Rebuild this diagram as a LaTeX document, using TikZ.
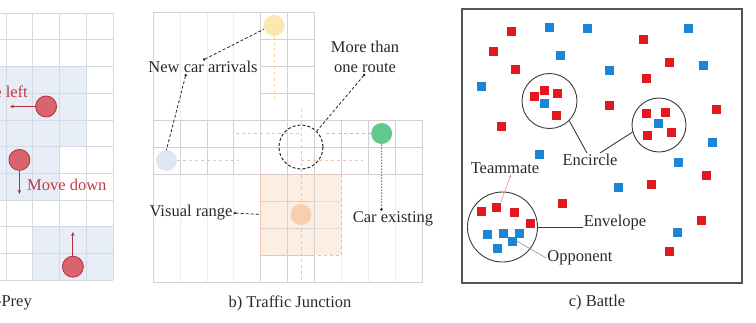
\documentclass[tikz,border=0pt]{standalone}
\usepackage{fontspec}
\setmainfont{Liberation Serif}
\usetikzlibrary{arrows.meta}
\definecolor{gridgray}{HTML}{D5DAE2}
\definecolor{visblue}{HTML}{E7EDF6}
\definecolor{agentred}{HTML}{D9646C}
\definecolor{agentdark}{HTML}{B0303E}
\definecolor{agenttext}{HTML}{C23A44}
\definecolor{roadgray}{HTML}{D2D2D2}
\definecolor{faintgray}{HTML}{EEEEEE}
\definecolor{visorange}{HTML}{FDEEE4}
\definecolor{visedge}{HTML}{F3BCA6}
\definecolor{caryellow}{HTML}{FCE7B0}
\definecolor{carblue}{HTML}{E0E5F4}
\definecolor{cargreen}{HTML}{62C98C}
\definecolor{carorange}{HTML}{F8CFAE}
\definecolor{yellowdash}{HTML}{F3DC9C}
\definecolor{bluedash}{HTML}{C5CFEA}
\definecolor{greendash}{HTML}{90D6A8}
\definecolor{orangedash}{HTML}{F2BFA8}
\definecolor{txtgray}{HTML}{2A2A2A}
\definecolor{framegray}{HTML}{555555}
\definecolor{ringgray}{HTML}{3A3A3A}
\definecolor{battlered}{HTML}{E4161E}
\definecolor{battleblue}{HTML}{1B86D8}
\definecolor{matepink}{HTML}{F08A8A}
\begin{document}
\begin{tikzpicture}[x=1pt,y=-1pt,
    lbl/.style={font=\fontsize{16.5}{20}\selectfont, text=txtgray, inner sep=1pt},
    agent/.style={circle, draw=agentdark, fill=agentred, line width=0.8pt, minimum size=21pt, inner sep=0pt},
    move/.style={draw=agentdark, line width=1pt, -{Stealth[length=4pt,width=3.5pt]}},
    car/.style={circle, minimum size=21pt, inner sep=0pt},
    route/.style={dashed, line width=0.9pt},
    lead/.style={draw=txtgray, line width=0.8pt, densely dashed, {Circle[length=2.5pt]}-},
    tm/.style={rectangle, fill=battlered, minimum size=9pt, inner sep=0pt},
    op/.style={rectangle, fill=battleblue, minimum size=9pt, inner sep=0pt},
    ring/.style={circle, draw=ringgray, line width=0.9pt, inner sep=0pt}]
    \useasboundingbox (0,0) rectangle (756,322);

    % a) Predator-Prey (cut at the left edge)
    \begin{scope}
        \clip (0,0) rectangle (140,322);
        \fill[visblue] (-21,66.4) rectangle (86.25,146.5);
        \fill[visblue] (-21,119.8) rectangle (59.5,199.9);
        \fill[visblue] (32.75,226.6) rectangle (113,280);
        \foreach \i in {0,...,10} {
            \draw[gridgray, line width=0.6pt] (113-26.75*\i,13) -- (113-26.75*\i,280);
            \draw[gridgray, line width=0.6pt] (-155,13+26.7*\i) -- (113,13+26.7*\i);
        }
        \node[agent] (prey1) at (46.1,106.5) {};
        \node[agent] (prey2) at (19.4,159.9) {};
        \node[agent] (prey3) at (72.9,266.7) {};
        \coordinate (left1) at (10,106.5);
        \coordinate (down2) at (19.4,194);
        \coordinate (up3) at (72.9,232);
        \draw[move] (prey1) -- (left1);
        \draw[move] (prey2) -- (down2);
        \draw[move] (prey3) -- (up3);
        \node[lbl, text=agenttext, anchor=east] (leftlbl) at (29,92) {Move left};
        \node[lbl, text=agenttext, anchor=west] (downlbl) at (26,185) {Move down};
        \node[lbl, anchor=east] (capa) at (33,303) {a) Predator-Prey};
    \end{scope}

    % b) Traffic Junction
    \begin{scope}[shift={(153,12)}, x=26.9pt, y=-27pt]
        % faint columns
        \foreach \i in {1,2,3} \draw[faintgray, line width=0.6pt] (\i,0) -- (\i,10);
        \foreach \i in {7,8,9} \draw[faintgray, line width=0.6pt] (\i,4) -- (\i,10);
        % visual range
        \fill[visorange] (4,6) rectangle (7,9);
        \foreach \i in {7,8} \draw[roadgray!70, line width=0.6pt] (4,\i) -- (7,\i);
        % roads
        \foreach \i in {0,...,10} {
            \draw[roadgray, line width=0.6pt] (\i,4) -- (\i,6);
            \draw[roadgray, line width=0.6pt] (4,\i) -- (6,\i);
        }
        \foreach \i in {4,5,6} {
            \draw[roadgray, line width=0.6pt] (0,\i) -- (10,\i);
            \draw[roadgray, line width=0.6pt] (\i,0) -- (\i,10);
        }
        \draw[roadgray, line width=0.6pt] (0,0) -- (6,0) -- (6,4) -- (10,4) -- (10,10) -- (0,10) -- cycle;
        \draw[visedge, dashed, line width=0.6pt] (4,6) rectangle (7,9);
        \coordinate (vr) at (4,7.5);
        % routes
        \coordinate (yellowend) at (4.5,3.3);
        \coordinate (blueend) at (3.2,5.5);
        \coordinate (greenend) at (6.4,4.5);
        \coordinate (orangetop) at (5.5,3.6);
        \coordinate (orangebot) at (5.5,10);
        \coordinate (turnwest) at (3.1,4.5);
        \coordinate (turnmid) at (5.5,4.5);
        \coordinate (turnrow) at (5.5,5.5);
        \coordinate (turneast) at (7.8,5.5);
        \draw[route, orangedash] (orangetop) -- (orangebot);
        \draw[route, orangedash] (turnwest) -- (turnmid);
        \draw[route, orangedash] (turnrow) -- (turneast);
        % cars
        \node[car, fill=caryellow] (yellowcar) at (4.5,0.5) {};
        \node[car, fill=carblue] (bluecar) at (0.5,5.5) {};
        \node[car, fill=cargreen] (greencar) at (8.5,4.5) {};
        \node[car, fill=carorange] (orangecar) at (5.5,7.5) {};
        \draw[route, yellowdash] (yellowcar) -- (yellowend);
        \draw[route, bluedash] (bluecar) -- (blueend);
        \draw[route, greendash] (greencar) -- (greenend);
        \node[circle, draw=txtgray, densely dashed, line width=1pt, minimum size=44pt, inner sep=0pt] (junction) at (5.5,5) {};
    \end{scope}
    \node[lbl] (newcar) at (203,67) {New car arrivals};
    \node[lbl, align=center] (multiroute) at (365,57) {More than\\one route};
    \node[lbl] (vislbl) at (191,213) {Visual range};
    \node[lbl] (carex) at (393,219) {Car existing};
    \node[lbl] (capb) at (290,303) {b) Traffic Junction};
    \draw[lead] (newcar.north) -- (yellowcar.200);
    \draw[lead] ([xshift=-17pt]newcar.south) -- (bluecar.north);
    \draw[lead] (multiroute.south) -- (junction.45);
    \draw[lead] (vislbl.east) -- (vr);
    \draw[txtgray, line width=1pt, dotted, {Circle[length=2.5pt]}-] ([xshift=-11.5pt]carex.north) -- (greencar.south);

    % c) Battle
    \draw[framegray, line width=1.2pt] (462,9) rectangle (742,283);
    \node[ring, minimum size=55pt] (encircleA) at (549.5,101) {};
    \node[ring, minimum size=54pt] (encircleB) at (659,125) {};
    \node[ring, minimum size=70pt] (envelopering) at (502.5,227) {};
    \foreach \x/\y [count=\k] in {511/31, 493/51, 515/69, 501/126, 643/39, 669/62, 646/78, 609/105, 716/109, 706/175, 651/184, 701/220, 669/251, 562/203,
        534/96, 544/90, 557/93, 556/115, 646/113, 665/112, 647/135, 671/132, 481/211, 514/212, 530/223}
        \node[tm] (mate\k) at (\x,\y) {};
    \node[tm] (matesq) at (496,207) {};
    \foreach \x/\y [count=\k] in {549/27, 587/28, 560/55, 481/86, 539/154, 688/28, 703/65, 609/70, 712/142, 678/162, 618/187, 677/232,
        544/103, 658/123, 487/234, 503/233, 519/233, 497/248}
        \node[op] (foe\k) at (\x,\y) {};
    \node[op] (oppsq) at (512,241) {};
    \node[lbl] (encirclelbl) at (590,160) {Encircle};
    \node[lbl] (envelopelbl) at (615,223) {Envelope};
    \node[lbl] (opponentlbl) at (580,258) {Opponent};
    \node[lbl] (teammatelbl) at (505,168) {Teammate};
    \node[lbl] (capc) at (597,303) {c) Battle};
    \draw[ringgray, line width=0.9pt] (encircleA.-45) -- ([xshift=-3pt]encirclelbl.north);
    \draw[ringgray, line width=0.9pt] (encircleB.195) -- ([xshift=10pt]encirclelbl.north);
    \draw[ringgray, line width=0.9pt] (envelopering.east) -- (envelopering.east -| envelopelbl.west);
    \draw[gray, line width=0.5pt] (oppsq.east) -- (opponentlbl.west);
    \draw[matepink, line width=0.6pt, -{Stealth[length=3pt,width=2.5pt]}] (matesq.north east) -- ([xshift=6pt]teammatelbl.south);
\end{tikzpicture}
\end{document}
